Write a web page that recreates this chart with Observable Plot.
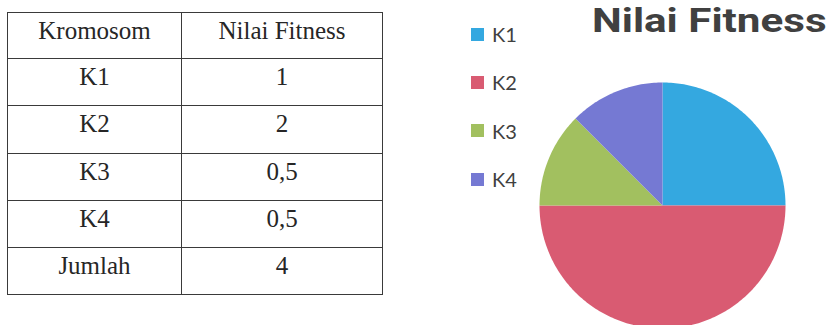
<!DOCTYPE html>
<html>
<head>
<meta charset="utf-8">
<script src="https://cdn.jsdelivr.net/npm/d3@7"></script>
<script src="https://cdn.jsdelivr.net/npm/@observablehq/plot@0.6"></script>
<style>
  html, body { margin: 0; padding: 0; background: #fff; }
  #root { position: relative; width: 829px; height: 325px; overflow: hidden; background: #fff; }
  table.fit { position: absolute; left: 7px; top: 12px; border-collapse: collapse; font-family: "Liberation Serif", "Times New Roman", serif; font-size: 25px; color: #262626; }
  table.fit td { border: 1.5px solid #3a3a3a; text-align: center; vertical-align: top; padding: 5px 0 0 0; line-height: 25px; box-sizing: border-box; }
  table.fit tr { height: 47.3px; }
  table.fit tr.head { height: 46px; }
  #title { position: absolute; left: 592px; top: 0px; font-family: Roboto, "Liberation Sans", sans-serif; font-weight: bold; font-size: 34px; line-height: normal; color: #404040; white-space: nowrap; transform: scaleX(1.24); transform-origin: 0 0; }
  #legend { position: absolute; left: 471px; top: 10px; }
  #legend .lg-swatch { height: 48.3px; display: flex; align-items: center; padding: 0; }
  #legend .lg-swatch svg { margin-right: 8px; }
  #pie { position: absolute; left: 532px; top: 75px; }
</style>
</head>
<body>
<div id="root">
  <table class="fit" id="tbl"></table>
  <div id="title">Nilai Fitness</div>
  <div id="legend"></div>
  <div id="pie"></div>
</div>
<script>
// Data
const headers = ["Kromosom", "Nilai Fitness"];
const categories = ["K1", "K2", "K3", "K4"];
const values = [1, 2, 0.5, 0.5];
const totalLabel = "Jumlah";
const colors = ["#34a8e0", "#d95b72", "#a2c05f", "#7579d3"];
const chartTitle = "Nilai Fitness";

const fmt = v => String(v).replace(".", ",");

// Table
const tbl = document.getElementById("tbl");
const colW = [174, 201];
function addRow(cells, cls) {
  const tr = document.createElement("tr");
  if (cls) tr.className = cls;
  cells.forEach((c, i) => {
    const td = document.createElement("td");
    td.style.width = colW[i] + "px";
    td.textContent = c;
    tr.appendChild(td);
  });
  tbl.appendChild(tr);
}
addRow(headers, "head");
categories.forEach((c, i) => addRow([c, fmt(values[i])]));
addRow([totalLabel, fmt(d3.sum(values))]);

document.getElementById("title").textContent = chartTitle;

// Pie slices built from d3.pie angles, drawn via Plot scales
const arcs = d3.pie().sort(null)(values);
const pts = [];
arcs.forEach((a, i) => {
  const k = categories[i];
  pts.push({k, x: 0, y: 0});
  const n = Math.max(2, Math.ceil((a.endAngle - a.startAngle) / (Math.PI / 180)));
  for (let j = 0; j <= n; j++) {
    const t = a.startAngle + (a.endAngle - a.startAngle) * j / n;
    pts.push({k, x: Math.sin(t), y: Math.cos(t)});
  }
});

const colorScale = {domain: categories, range: colors};

const pie = Plot.plot({
  width: 260,
  height: 260,
  margin: 7,
  x: {domain: [-1, 1], axis: null},
  y: {domain: [-1, 1], axis: null},
  color: colorScale,
  marks: [
    Plot.line(pts, {x: "x", y: "y", z: "k", fill: "k", stroke: "none", curve: "linear-closed"})
  ]
});
document.getElementById("pie").appendChild(pie);

const legend = Plot.legend({
  color: colorScale,
  legend: "swatches",
  columns: 1,
  swatchSize: 13,
  className: "lg",
  style: {fontFamily: "Lato, 'Open Sans', sans-serif", fontSize: "20px", color: "#404040", margin: 0}
});
document.getElementById("legend").appendChild(legend);
</script>
</body>
</html>
